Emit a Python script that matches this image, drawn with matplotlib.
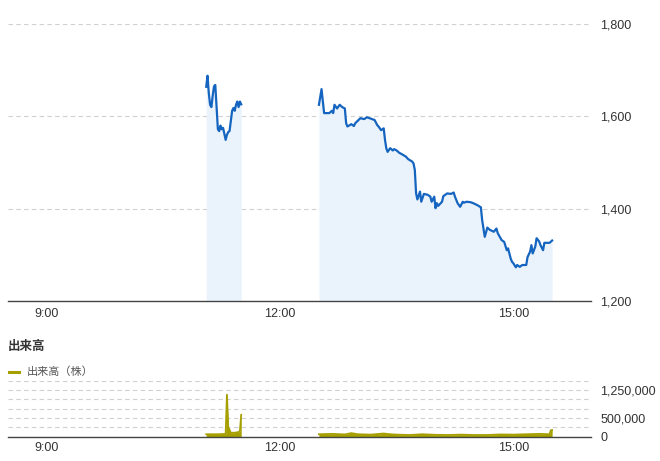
import matplotlib
matplotlib.use("Agg")
import matplotlib.pyplot as plt
from matplotlib.lines import Line2D
from matplotlib.ticker import FixedLocator, FuncFormatter

plt.rcParams['font.family'] = ['Liberation Sans', 'Noto Sans CJK JP', 'DejaVu Sans']

# price, morning session (first trade 11:03)
am_times = ['11:03', '11:04', '11:05', '11:06', '11:07', '11:08', '11:09', '11:10',
            '11:11', '11:12', '11:13', '11:14', '11:15', '11:16', '11:17', '11:18',
            '11:19', '11:20', '11:21', '11:22', '11:23', '11:24', '11:25', '11:26',
            '11:27', '11:28', '11:29', '11:30']
am_price = [1664, 1688, 1650, 1625, 1620, 1645, 1665, 1668,
            1620, 1572, 1568, 1580, 1572, 1575, 1562, 1549,
            1560, 1566, 1568, 1590, 1612, 1618, 1612, 1625,
            1632, 1620, 1632, 1626]

# price, afternoon session
pm_times = ['12:30', '12:32', '12:34', '12:38', '12:40', '12:41', '12:42', '12:44',
            '12:46', '12:48', '12:50', '12:51', '12:52', '12:55', '12:57', '12:58',
            '13:02', '13:05', '13:07', '13:11', '13:13', '13:15', '13:16', '13:18',
            '13:20', '13:21', '13:22', '13:23', '13:25', '13:27', '13:28', '13:30',
            '13:32', '13:34', '13:37', '13:39', '13:42', '13:43', '13:44', '13:45',
            '13:46', '13:48', '13:49', '13:51', '13:54', '13:56', '13:57', '13:59',
            '14:00', '14:01', '14:02', '14:04', '14:05', '14:06', '14:09', '14:12',
            '14:14', '14:15', '14:17', '14:19', '14:21', '14:22', '14:24', '14:27',
            '14:29', '14:32', '14:35', '14:36', '14:38', '14:40', '14:42', '14:45',
            '14:47', '14:48', '14:51', '14:53', '14:55', '14:56', '14:58', '14:59',
            '15:00', '15:02', '15:03', '15:05', '15:07', '15:10', '15:11', '15:13',
            '15:14', '15:15', '15:17', '15:18', '15:20', '15:21', '15:23', '15:24',
            '15:26', '15:28', '15:30']
pm_price = [1625, 1659, 1607, 1607, 1612, 1607, 1625, 1617,
            1625, 1620, 1617, 1585, 1578, 1583, 1579, 1585,
            1596, 1594, 1598, 1594, 1592, 1581, 1578, 1570,
            1574, 1549, 1531, 1523, 1531, 1526, 1529, 1526,
            1521, 1518, 1513, 1507, 1502, 1498, 1484, 1433,
            1420, 1437, 1415, 1432, 1430, 1426, 1415, 1426,
            1401, 1412, 1406, 1412, 1415, 1427, 1433, 1432,
            1435, 1426, 1412, 1404, 1415, 1413, 1415, 1414,
            1412, 1408, 1403, 1375, 1339, 1359, 1354, 1350,
            1357, 1347, 1332, 1328, 1310, 1314, 1292, 1285,
            1282, 1273, 1278, 1274, 1278, 1278, 1295, 1307,
            1321, 1303, 1318, 1336, 1329, 1321, 1310, 1326,
            1326, 1326, 1331]

# volume (shares)
am_vol_times = ['11:03', '11:08', '11:13', '11:18', '11:19', '11:20', '11:21', '11:22',
                '11:25', '11:28', '11:29', '11:30']
am_vol = [60000, 60000, 60000, 70000, 1120000, 250000, 180000, 100000,
          100000, 120000, 150000, 580000]
pm_vol_times = ['12:30', '12:40', '12:50', '12:55', '13:00', '13:10', '13:20', '13:25',
                '13:30', '13:40', '13:50', '14:00', '14:10', '14:20', '14:30', '14:40',
                '14:50', '15:00', '15:10', '15:20', '15:28', '15:29', '15:30']
pm_vol = [60000, 70000, 55000, 90000, 60000, 50000, 80000, 60000,
          50000, 40000, 60000, 45000, 40000, 50000, 40000, 40000,
          55000, 50000, 60000, 70000, 60000, 170000, 170000]

price_ticks = [1200, 1400, 1600, 1800]
vol_ticks = [0, 500000, 1250000]
time_ticks = ['9:00', '12:00', '15:00']


def to_min(t):
    h, m = t.split(':')
    return int(h) * 60 + int(m)


line_c = '#1565c0'
fill_c = '#eaf3fb'
vol_c = '#a59f00'
grid_c = '#d0d0d0'
txt_c = '#333333'

fig = plt.figure(figsize=(6.6, 4.61), dpi=100)
ax = fig.add_axes([8 / 660, (461 - 301) / 461, 583 / 660, 277 / 461])
axv = fig.add_axes([8 / 660, (461 - 436.5) / 461, 583 / 660, 56 / 461])

for times, price in [(am_times, am_price), (pm_times, pm_price)]:
    x = [to_min(t) for t in times]
    ax.fill_between(x, price, 1200, color=fill_c, lw=0, zorder=1)
    ax.plot(x, price, color=line_c, lw=1.6, zorder=3)

for times, vol in [(am_vol_times, am_vol), (pm_vol_times, pm_vol)]:
    x = [to_min(t) for t in times]
    axv.fill_between(x, vol, 0, color=vol_c, lw=0, zorder=2)
    axv.plot(x, vol, color=vol_c, lw=1.3, zorder=3)

xt = [to_min(t) for t in time_ticks]
for a in (ax, axv):
    a.set_xlim(510, 960)
    a.set_xticks(xt)
    a.set_xticklabels(time_ticks)
    for s in ('top', 'left', 'right'):
        a.spines[s].set_visible(False)
    a.spines['bottom'].set_color('#444444')
    a.spines['bottom'].set_linewidth(1.0)
    a.spines['bottom'].set_zorder(5)
    a.yaxis.tick_right()
    a.tick_params(axis='both', length=0, labelsize=9, colors=txt_c)
    a.tick_params(axis='x', pad=5)
    a.tick_params(axis='y', pad=6.5)
    a.set_facecolor('none')

ax.set_ylim(1200, 1800)
ax.set_yticks(price_ticks)
ax.yaxis.set_major_formatter(FuncFormatter(lambda v, p: f'{int(v):,}'))
ax.grid(axis='y', color=grid_c, ls=(0, (4, 3)), lw=0.8, zorder=0)
ax.set_axisbelow(True)

axv.set_ylim(0, 1500000)
axv.set_yticks(vol_ticks)
axv.yaxis.set_major_formatter(FuncFormatter(lambda v, p: f'{int(v):,}'))
axv.yaxis.set_minor_locator(FixedLocator([250000, 750000, 1000000, 1500000]))
axv.tick_params(axis='y', which='minor', length=0)
axv.grid(axis='y', which='both', color=grid_c, ls=(0, (4, 3)), lw=0.8, zorder=0)
axv.set_axisbelow(True)
axv.tick_params(axis='x', pad=4)

fig.text(8 / 660, (461 - 347) / 461, '出来高', fontsize=9, fontweight='bold',
         color='#333333', va='center', ha='left')
fig.add_artist(Line2D([9 / 660, 19 / 660], [(461 - 372) / 461] * 2,
                      color=vol_c, lw=2.2, transform=fig.transFigure))
fig.text(27 / 660, (461 - 372) / 461, '出来高（株）', fontsize=8,
         color='#555555', va='center', ha='left')

fig.savefig('out.png', dpi=100, facecolor='white')
